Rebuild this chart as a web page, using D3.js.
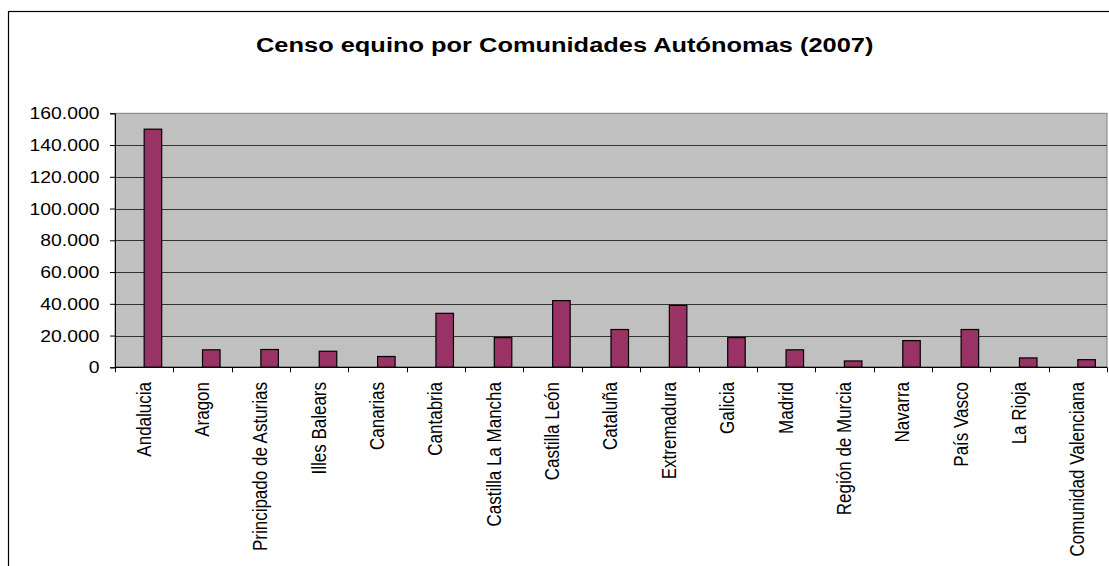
<!DOCTYPE html>
<html>
<head>
<meta charset="utf-8">
<script src="https://cdn.jsdelivr.net/npm/d3@7"></script>
<style>
  html, body { margin: 0; padding: 0; background: #ffffff; }
  svg { display: block; }
</style>
</head>
<body>
<svg id="chart" width="1109" height="566"></svg>
<script>
const categories = ["Andalucia", "Aragon", "Principado de Asturias", "Illes Balears", "Canarias",
  "Cantabria", "Castilla La Mancha", "Castilla León", "Cataluña", "Extremadura", "Galicia",
  "Madrid", "Región de Murcia", "Navarra", "País Vasco", "La Rioja", "Comunidad Valenciana"];
const values = [150000, 11000, 11200, 10100, 6800, 34000, 18700, 42000, 23800, 39000, 18700,
  11000, 4000, 16800, 23800, 5900, 4800];
const yTicks = [0, 20000, 40000, 60000, 80000, 100000, 120000, 140000, 160000];
const title = "Censo equino por Comunidades Autónomas (2007)";

const svg = d3.select("#chart");
const font = "'Liberation Sans', Arial, sans-serif";
const sx = 1.14;

const plot = { left: 115, right: 1107, top: 113.3, bottom: 367.3 };

// outer chart border
svg.append("rect")
  .attr("x", 8.5).attr("y", 11.5)
  .attr("width", 1200).attr("height", 700)
  .attr("fill", "#ffffff").attr("stroke", "#000000").attr("stroke-width", 1.2);

// title (fitted to the source width)
const titleText = svg.append("text")
  .attr("text-anchor", "start")
  .attr("font-family", font).attr("font-weight", "bold").attr("font-size", 20.5)
  .attr("fill", "#000").text(title);
const tl = titleText.node().getComputedTextLength();
const tsx = 618 / tl;
titleText.attr("transform", `translate(256,52) scale(${tsx},1)`);

const x = d3.scaleBand().domain(categories).range([plot.left, plot.right]).padding(0);
const y = d3.scaleLinear().domain([0, 160000]).range([plot.bottom, plot.top]);

// plot background
svg.append("rect")
  .attr("x", plot.left).attr("y", plot.top)
  .attr("width", plot.right - plot.left).attr("height", plot.bottom - plot.top)
  .attr("fill", "#c0c0c0").attr("stroke", "#808080").attr("stroke-width", 1);

// gridlines
svg.append("g").selectAll("line").data(yTicks.filter(d => d > 0 && d < 160000)).join("line")
  .attr("x1", plot.left).attr("x2", plot.right)
  .attr("y1", d => Math.round(y(d)) + 0.5).attr("y2", d => Math.round(y(d)) + 0.5)
  .attr("stroke", "#333333").attr("stroke-width", 1);

// bars
const bw = x.bandwidth();
svg.append("g").selectAll("rect").data(values).join("rect")
  .attr("x", (d, i) => x(categories[i]) + bw * 0.5)
  .attr("width", bw * 0.3)
  .attr("y", d => y(d))
  .attr("height", d => y(0) - y(d))
  .attr("fill", "#993366").attr("stroke", "#000000").attr("stroke-width", 1.2);

// y axis
const yAxis = svg.append("g").attr("transform", `translate(${plot.left},0)`)
  .call(d3.axisLeft(y).tickValues(yTicks).tickSize(5).tickFormat(() => ""));
yAxis.select(".domain").attr("stroke", "#000");
yAxis.selectAll(".tick line").attr("stroke", "#000");

const fmt = d => d === 0 ? "0" : d3.format(",")(d).replace(/,/g, ".");
svg.append("g").selectAll("text").data(yTicks).join("text")
  .attr("transform", d => `translate(99.5,${y(d)}) scale(${sx},1)`)
  .attr("text-anchor", "end").attr("dy", "0.36em")
  .attr("font-family", font).attr("font-size", 17).attr("fill", "#000")
  .text(fmt);

// x axis
const boundaries = categories.map(c => x(c)).concat([plot.right]);
const xg = svg.append("g");
xg.append("line").attr("x1", plot.left).attr("x2", plot.right)
  .attr("y1", plot.bottom).attr("y2", plot.bottom).attr("stroke", "#000").attr("stroke-width", 1.2);
xg.selectAll("line.tk").data(boundaries).join("line").attr("class", "tk")
  .attr("x1", d => Math.round(d) + 0.5).attr("x2", d => Math.round(d) + 0.5)
  .attr("y1", plot.bottom).attr("y2", plot.bottom + 5)
  .attr("stroke", "#000");

svg.append("g").selectAll("text").data(categories).join("text")
  .attr("transform", d => `translate(${x(d) + bw / 2 - 0.5},382) scale(${sx},1) rotate(-90)`)
  .attr("text-anchor", "end").attr("dy", "0.36em")
  .attr("font-family", font).attr("font-size", 17).attr("fill", "#000")
  .text(d => d);
</script>
</body>
</html>
